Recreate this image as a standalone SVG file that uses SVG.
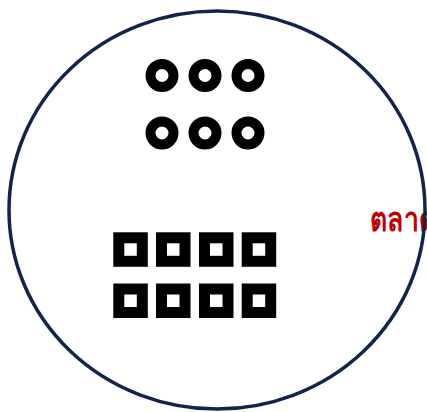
<svg xmlns="http://www.w3.org/2000/svg" width="427" height="412" viewBox="0 0 427 412">
<style>
.ring{fill:none;stroke:#000;stroke-width:10}
.sq{fill:#fff;stroke:#000;stroke-width:11}
.lbl{font-family:"Noto Sans","DejaVu Sans",sans-serif;font-weight:bold;fill:#c00000;font-size:34px}
</style>
<rect width="427" height="412" fill="#fff"/>
<g id="label"><text class="lbl" transform="translate(370 230.5) scale(0.78 1)">ตลาด</text></g>
<g id="outer"><ellipse cx="217" cy="210" rx="208" ry="199" fill="none" stroke="#13244a" stroke-width="3.5"/></g>
<g id="rings">
<circle class="ring" cx="162" cy="75.5" r="11.5"/>
<circle class="ring" cx="205" cy="75.5" r="11.5"/>
<circle class="ring" cx="248" cy="75.5" r="11.5"/>
<circle class="ring" cx="162" cy="133" r="11.5"/>
<circle class="ring" cx="205" cy="133" r="11.5"/>
<circle class="ring" cx="248" cy="133" r="11.5"/>
</g>
<g id="squares">
<rect class="sq" x="118.8" y="237.8" width="23.5" height="23.5"/>
<rect class="sq" x="161.5" y="237.8" width="23.5" height="23.5"/>
<rect class="sq" x="204.5" y="237.8" width="23.5" height="23.5"/>
<rect class="sq" x="247.2" y="237.8" width="23.5" height="23.5"/>
<rect class="sq" x="118.8" y="289" width="23.5" height="23.5"/>
<rect class="sq" x="161.5" y="289" width="23.5" height="23.5"/>
<rect class="sq" x="204.5" y="289" width="23.5" height="23.5"/>
<rect class="sq" x="247.2" y="289" width="23.5" height="23.5"/>
</g>
<g id="connectors"/>
</svg>
